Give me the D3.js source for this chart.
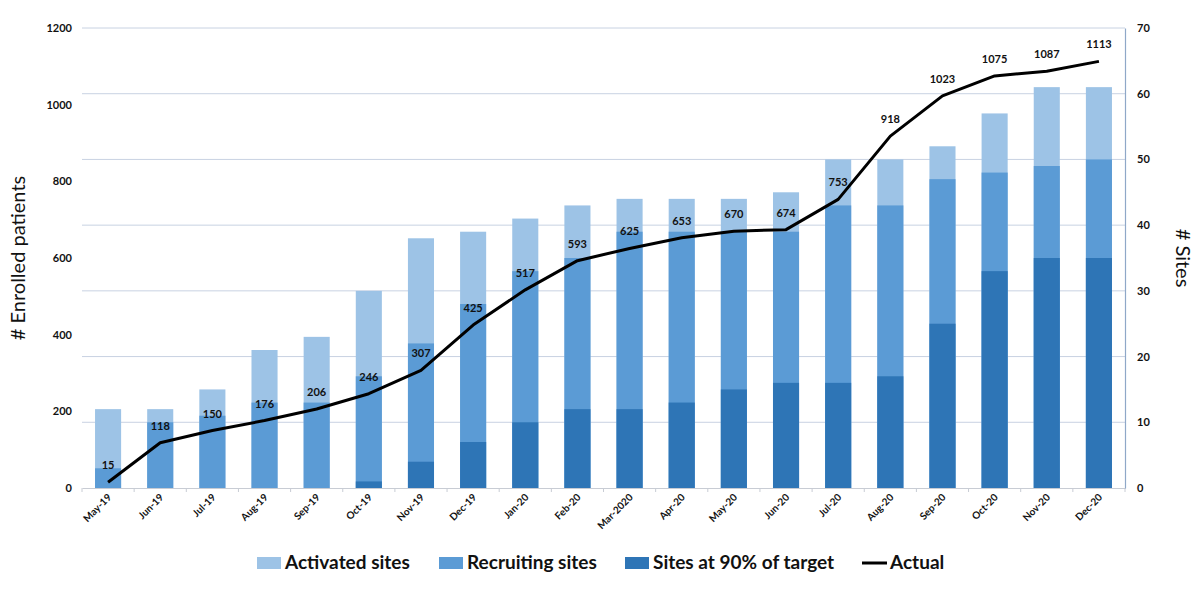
<!DOCTYPE html>
<html><head><meta charset="utf-8">
<script src="https://cdn.jsdelivr.net/npm/d3@7"></script>
<style>body{margin:0;background:#fff}svg{display:block}</style>
</head><body>
<svg id="c" width="1200" height="598"></svg>
<script>
const months = ["May-19","Jun-19","Jul-19","Aug-19","Sep-19","Oct-19","Nov-19","Dec-19","Jan-20","Feb-20","Mar-2020","Apr-20","May-20","Jun-20","Jul-20","Aug-20","Sep-20","Oct-20","Nov-20","Dec-20"];
const activated = [12,12,15,21,23,30,38,39,41,43,44,44,44,45,50,50,52,57,61,61];
const recruiting = [3,10,11,13,13,17,22,28,33,35,39,39,39,39,43,43,47,48,49,50];
const target90 = [0,0,0,0,0,1,4,7,10,12,12,13,15,16,16,17,25,33,35,35];
const actual = [15,118,150,176,206,246,307,425,517,593,625,653,670,674,753,918,1023,1075,1087,1113];
const leftTicks = [0,200,400,600,800,1000,1200];
const rightTicks = [0,10,20,30,40,50,60,70];

const font = "Lato, 'Open Sans', sans-serif";
const svg = d3.select("#c");
const L = 82, R = 1125, T = 28, B = 488;
const x = d3.scaleBand().domain(months).range([L, R]).paddingInner(0.5).paddingOuter(0.25);
const yL = d3.scaleLinear().domain([0,1200]).range([B, T]);
const yR = d3.scaleLinear().domain([0,70]).range([B, T]);

// gridlines (from right axis)
svg.append("g").selectAll("line").data(rightTicks.filter(d=>d>0)).join("line")
  .attr("x1", L).attr("x2", R).attr("y1", d=>yR(d)).attr("y2", d=>yR(d))
  .attr("stroke", "#C8D2E2").attr("stroke-width", 1);

// bars (overlapping)
const series = [
  {vals: activated, color: "#9DC3E6"},
  {vals: recruiting, color: "#5B9BD5"},
  {vals: target90, color: "#2E75B6"}
];
series.forEach(s => {
  svg.append("g").selectAll("rect").data(months).join("rect")
    .attr("x", d => x(d)).attr("width", x.bandwidth())
    .attr("y", (d,i) => yR(s.vals[i])).attr("height", (d,i) => B - yR(s.vals[i]))
    .attr("fill", s.color);
});

// x axis
const xAxis = d3.axisBottom(x).tickSize(0).tickFormat(d=>d);
const gx = svg.append("g").attr("transform", `translate(0,${B})`).call(xAxis);
gx.select(".domain").attr("stroke", "#C8CCD4");
gx.selectAll(".tick text")
  .attr("font-family", font).attr("font-weight", "bold").attr("font-size", 10).attr("fill", "#111")
  .attr("text-anchor", "end").attr("dy", null).attr("y", 0)
  .attr("transform", "translate(4,10) rotate(-45)");
const step = x.step();
svg.append("g").selectAll("line").data(d3.range(months.length+1)).join("line")
  .attr("x1", i => L + i*step).attr("x2", i => L + i*step)
  .attr("y1", B).attr("y2", B+4).attr("stroke", "#C8CCD4");

// left axis
const gl = svg.append("g").attr("transform", `translate(${L-10},0)`)
  .call(d3.axisLeft(yL).tickValues(leftTicks).tickSize(0).tickPadding(0).tickFormat(d3.format("d")));
gl.select(".domain").remove();
gl.selectAll("text").attr("font-family", font).attr("font-weight", "bold").attr("font-size", 11).attr("fill", "#111");

// right axis
const gr = svg.append("g").attr("transform", `translate(${R},0)`)
  .call(d3.axisRight(yR).tickValues(rightTicks).tickSize(0).tickPadding(12));
gr.select(".domain").attr("stroke", "#8FA8C8").attr("stroke-width", 1.2);
gr.selectAll("text").attr("font-family", font).attr("font-weight", "bold").attr("font-size", 11).attr("fill", "#111");

// line
const line = d3.line().x((d,i) => x(months[i]) + x.bandwidth()/2).y(d => yL(d));
svg.append("path").datum(actual).attr("d", line)
  .attr("fill", "none").attr("stroke", "#000").attr("stroke-width", 3).attr("stroke-linejoin", "round");

// data labels
svg.append("g").selectAll("text").data(actual).join("text")
  .attr("x", (d,i) => x(months[i]) + x.bandwidth()/2).attr("y", d => yL(d) - 13)
  .attr("text-anchor", "middle").attr("font-family", font).attr("font-weight", "bold")
  .attr("font-size", 11).attr("fill", "#111").text(d => d);

// axis titles
svg.append("text").attr("transform", `translate(25,${(T+B)/2}) rotate(-90)`)
  .attr("text-anchor", "middle").attr("font-family", font).attr("font-size", 20).attr("fill", "#111")
  .text("# Enrolled patients");
svg.append("text").attr("transform", `translate(1176,${(T+B)/2}) rotate(90)`)
  .attr("text-anchor", "middle").attr("font-family", font).attr("font-size", 20).attr("fill", "#111")
  .text("# Sites");

// legend
const legendItems = [
  {label: "Activated sites", color: "#9DC3E6", type: "rect", x: 257},
  {label: "Recruiting sites", color: "#5B9BD5", type: "rect", x: 439},
  {label: "Sites at 90% of target", color: "#2E75B6", type: "rect", x: 625},
  {label: "Actual", color: "#000", type: "line", x: 862}
];
const lg = svg.append("g");
legendItems.forEach(it => {
  if (it.type === "rect") {
    lg.append("rect").attr("x", it.x).attr("y", 557).attr("width", 24).attr("height", 12).attr("fill", it.color);
  } else {
    lg.append("line").attr("x1", it.x).attr("x2", it.x+25).attr("y1", 563).attr("y2", 563)
      .attr("stroke", it.color).attr("stroke-width", 3);
  }
  lg.append("text").attr("x", it.x + 28).attr("y", 569).attr("font-family", font)
    .attr("font-weight", "bold").attr("font-size", 19).attr("fill", "#111").text(it.label);
});
</script>
</body></html>
